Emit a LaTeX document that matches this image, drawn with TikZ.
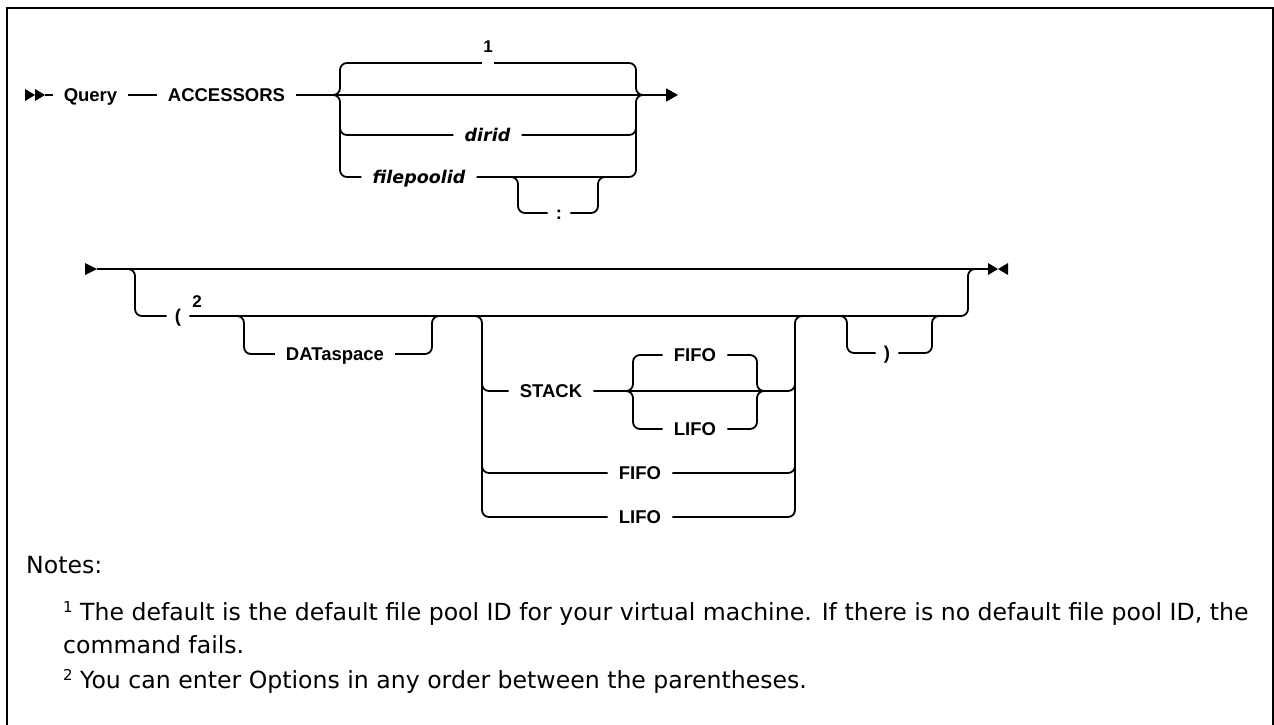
\documentclass[tikz,border=0pt]{standalone}
\usepackage{fontspec}
\setmainfont{Liberation Sans}
\newfontfamily\itfont{DejaVu Sans}
\newfontfamily\notefont{DejaVu Sans}
\usetikzlibrary{arrows.meta}
\tikzset{
  ln/.style={line width=1.8pt},
  rr/.style={line width=1.8pt, rounded corners=7pt},
  lbl/.style={inner xsep=11pt, inner ysep=0pt, text height=13.4pt, text depth=0pt, font=\fontsize{18.5}{22}\selectfont\bfseries},
  ilbl/.style={lbl, font=\fontsize{17.5}{22}\selectfont\itfont\bfseries\itshape},
  plbl/.style={lbl, inner xsep=8pt},
  gapnode/.style={inner sep=0pt, minimum width=12pt, minimum height=0pt},
  supnum/.style={inner sep=0pt, font=\fontsize{17}{18}\selectfont\bfseries},
  note/.style={anchor=base west, inner sep=0pt, font=\fontsize{23.6}{28}\selectfont\notefont},
}
\newcommand{\notesup}[1]{\raisebox{8pt}{\fontsize{15}{15}\selectfont #1}}
\begin{document}
\begin{tikzpicture}[x=1pt,y=-1pt]
\useasboundingbox (0,0) rectangle (1274,725);
\draw[line width=2pt] (7,726) -- (7,8) -- (1272.5,8) -- (1272.5,726);

% ---------- row 1 ----------
\fill (25,89) -- (35,95) -- (25,101) -- cycle;
\fill (35,89) -- (45,95) -- (35,101) -- cycle;
\coordinate (s1) at (45,95);
\node[lbl] (query) at (90.5,95) {Query};
\node[lbl] (acc) at (226.5,95) {ACCESSORS};
\coordinate (e1) at (678,95);
\draw[ln] (s1) -- (query);
\draw[ln] (query) -- (acc);
\draw[ln,-{Triangle[length=12pt,width=13pt]}] (acc) -- (e1);

% choice bracket
\node[supnum] (one) at (488,47) {1};
\node[gapnode] (g1) at (488,63) {};
\node[ilbl] (dirid) at (487.5,135) {dirid};
\node[ilbl] (fp) at (419,177) {filepoolid};
\node[plbl] (colon) at (559,213) {:};
\draw[rr] (330,95) -- (340,95) -- (340,63) -- (g1.west);
\draw[rr] (g1.east) -- (636,63) -- (636,95) -- (646,95);
\draw[rr] (330,95) -- (340,95) -- (340,177) -- (fp.west);
\draw[rr] (340,120) -- (340,135) -- (dirid.west);
\draw[rr] (dirid.east) -- (636,135) -- (636,120);
\draw[rr] (fp.east) -- (636,177) -- (636,95) -- (646,95);
\draw[rr] (510,177) -- (518,177) -- (518,213) -- (colon.west);
\draw[rr] (colon.east) -- (598,213) -- (598,177) -- (606,177);

% ---------- row 2 ----------
\fill (85,263) -- (97,269) -- (85,275) -- cycle;
\coordinate (s2) at (97,269);
\coordinate (e2) at (988,269);
\draw[ln] (s2) -- (e2);
\fill (988,263) -- (998,269) -- (988,275) -- cycle;
\fill (1008,263) -- (998,269) -- (1008,275) -- cycle;

\node[plbl] (lp) at (178,316) {(};
\node[supnum] (two) at (197,302) {2};
\draw[rr] (125,269) -- (135,269) -- (135,316) -- (lp.west);
\draw[rr] (lp.east) -- (968,316) -- (968,269) -- (978,269);

% DATaspace
\node[lbl] (data) at (335,354) {DATaspace};
\draw[rr] (236,316) -- (244,316) -- (244,354) -- (data.west);
\draw[rr] (data.east) -- (432,354) -- (432,316) -- (440,316);

% STACK / FIFO / LIFO group
\node[lbl] (stack) at (551,391) {STACK};
\node[lbl] (ofifo) at (640,473) {FIFO};
\node[lbl] (olifo) at (640,517) {LIFO};
\draw[rr] (474,316) -- (482,316) -- (482,517) -- (olifo.west);
\draw[rr] (482,376) -- (482,391) -- (stack.west);
\draw[rr] (482,458) -- (482,473) -- (ofifo.west);
\draw[rr] (olifo.east) -- (795,517) -- (795,316) -- (803,316);
\draw[rr] (ofifo.east) -- (795,473) -- (795,458);
\draw[rr] (stack.east) -- (795,391) -- (795,376);

\node[lbl] (ififo) at (695,355) {FIFO};
\node[lbl] (ilifo) at (695,429) {LIFO};
\draw[rr] (625,391) -- (633,391) -- (633,355) -- (ififo.west);
\draw[rr] (625,391) -- (633,391) -- (633,429) -- (ilifo.west);
\draw[rr] (ififo.east) -- (757,355) -- (757,391) -- (765,391);
\draw[rr] (ilifo.east) -- (757,429) -- (757,391) -- (765,391);

% right parenthesis
\node[plbl] (rp) at (887,353) {)};
\draw[rr] (839,316) -- (847,316) -- (847,353) -- (rp.west);
\draw[rr] (rp.east) -- (932,353) -- (932,316) -- (940,316);

% ---------- notes ----------
\node[note] (notes) at (26,573) {Notes:};
\node[note] (n1a) at (63,620) {\notesup{1} The default is the default file pool ID for your virtual machine. If there is no default file pool ID, the};
\node[note] (n1b) at (63,653) {command fails.};
\node[note] (n2) at (63,688) {\notesup{2} You can enter Options in any order between the parentheses.};
\end{tikzpicture}
\end{document}
